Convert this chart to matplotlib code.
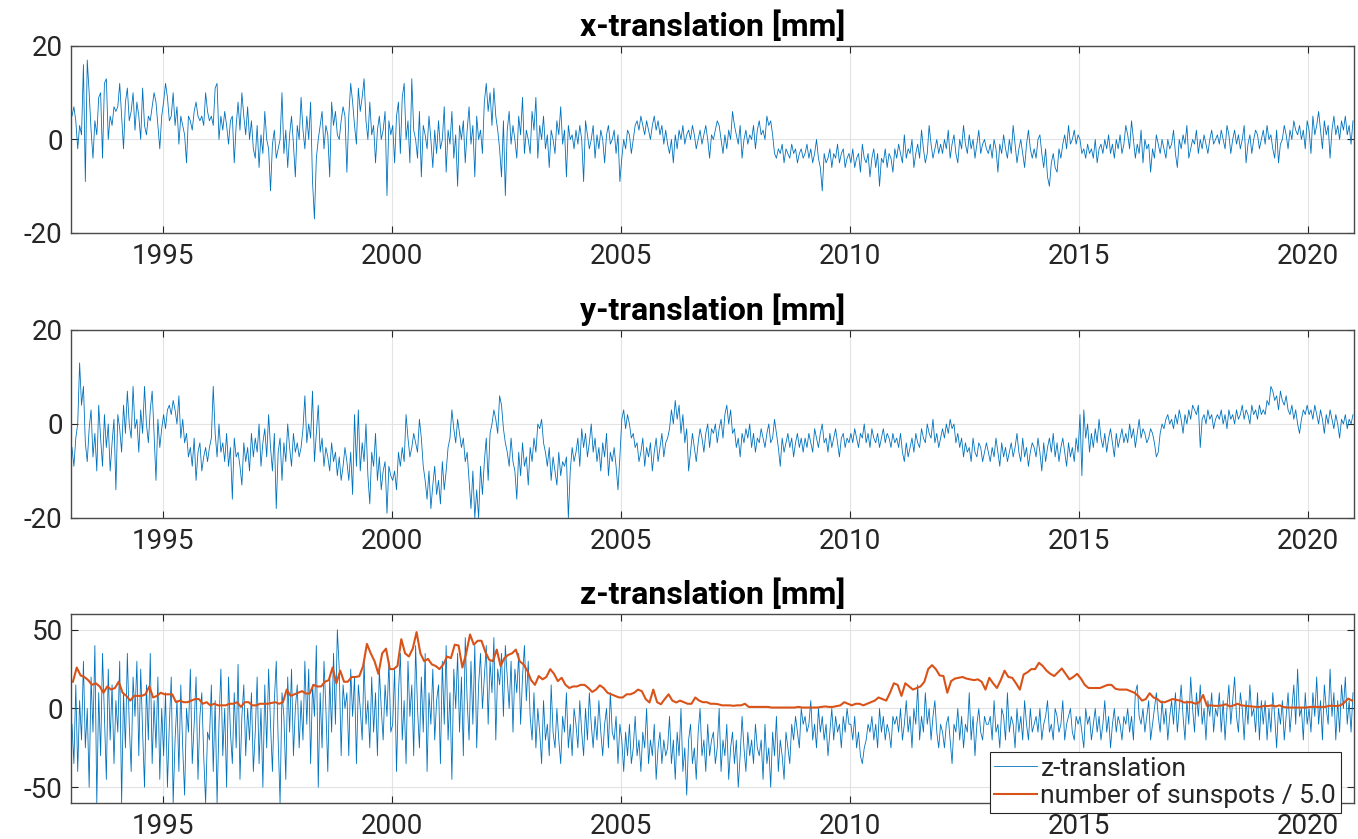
import numpy as np
import matplotlib.pyplot as plt

plt.rcParams['font.family'] = ['Roboto', 'DejaVu Sans']
plt.rcParams['axes.unicode_minus'] = False

START_YEAR = 1993
PER_YEAR = 24      # translation samples per year (semi-monthly)
SUN_PER_YEAR = 12  # monthly sunspot values

# x-translation [mm], one row per year 1993..2020
x_trans = [
    5, 7, 4, -2, 3, 1, 16, -9, 17, 10, 2, -4, 4, 1, 9, 10, -4, 12, 13, 0, 5, 3, 7, 6,
    7, 12, 5, -2, 8, 11, 4, 6, 10, 2, 8, 5, 0, 11, 3, 1, 5, 4, 7, 10, 8, 3, -2, 5,
    8, 12, 9, 4, 5, 10, 3, 7, -1, 5, 3, 1, -5, 5, 4, 2, 6, 8, 5, 4, 5, 3, 10, 6,
    4, 5, 3, 11, 12, 0, 5, 2, 6, 3, -1, 4, 5, -5, 3, 8, 2, 10, 5, 1, 7, 0, 4, -2,
    -4, 3, -6, 1, -3, 6, 0, -2, -11, -1, 2, -4, -2, 0, 10, -3, 2, -6, 1, 5, -1, -8, 3, 0,
    9, 2, -2, 5, 0, 8, -9, -17, -4, 0, 3, 6, -2, 3, 1, -8, 8, 3, 6, 1, 0, 4, 7, 5,
    -7, 5, 12, 8, 3, -1, 11, 6, 9, 13, 4, 0, 8, 1, 3, -5, 2, 5, 0, 2, 6, -12, 4, 1,
    3, -5, 5, 8, -3, 9, 12, 0, 4, -5, 13, 2, 0, -4, 6, -8, 3, 1, -2, 5, 0, -6, 2, -3,
    4, -2, 0, 7, -7, 2, -1, 6, -4, 1, -10, 3, 0, 4, -5, 2, 7, -1, 3, -8, 5, 0, 2, -3,
    8, 12, 6, 10, 3, 11, 5, 2, -2, -8, 4, -12, 2, 6, -1, 3, 0, -4, 5, 1, 9, -3, 2, 0,
    -3, 6, 2, 9, -4, 3, 0, 5, -2, 1, -6, 2, 0, -3, 4, 1, 7, -1, 2, -8, 3, 0, 1, -2,
    2, -1, 3, 0, -9, 4, 1, -2, 0, 3, -4, 1, -2, 2, 0, -5, 1, 3, -1, 0, 2, -3, 1, -9,
    -4, 0, -2, 2, 1, -3, 0, 3, 4, 2, 5, 3, 1, 4, 2, 0, 3, 5, 2, 4, 1, 3, -1, 2,
    -1, -3, 0, -5, 1, -2, 2, 0, 3, -1, 1, 2, 0, 3, 1, -2, 0, 2, -1, 1, 3, 0, -4, 1,
    0, 2, 4, 3, 0, -3, 1, -2, 2, 0, 6, 3, 1, -1, 3, -4, 0, 2, -1, 1, 0, 3, -2, 2,
    4, 1, 2, 0, 5, 3, 4, 1, -3, -4, -2, -3, -1, -5, -2, -3, -4, -1, -3, -2, -5, -3, -2, -4,
    -3, -1, -4, -2, -5, -3, 0, -4, -6, -11, -3, -5, -4, -2, -6, -3, -4, -1, -5, -3, -2, -6, -4, -3,
    -5, -2, -6, -4, -3, -7, -1, -4, -5, -3, -8, -4, -2, -6, -3, -10, -4, -5, -2, -6, -3, -4, -7, -2,
    -4, -1, -3, -5, 1, -4, -2, -3, 0, -6, -3, -1, -4, 2, -2, -5, -3, 3, -1, -4, -2, 0, -3, -1,
    -3, 0, -2, 2, -4, -1, 1, -3, -5, 0, -2, 3, -1, -3, 1, -2, 0, -4, -1, 2, -3, -1, 0, -2,
    -3, -1, -4, 0, -2, -7, -1, -3, 1, -2, -4, 0, -3, 3, -1, -5, -2, 0, -3, -6, -1, 2, -2, -4,
    -2, -4, 0, 1, -3, -6, -2, -8, -10, -5, -3, -6, -7, -2, -4, -1, 1, -2, 3, -1, 0, 2, -1, 1,
    0, -3, -2, -4, -1, -3, -2, -4, 0, -5, -2, -1, -3, 0, -2, 1, -3, -1, -4, 0, -2, 1, -3, -1,
    3, 1, -2, 4, 0, -4, -1, -3, 2, -5, 0, -2, -1, -7, -2, -4, 1, -1, -3, 0, -2, -4, 0, -2,
    -1, 2, -3, -6, 0, -2, 1, -1, 3, -4, -2, 0, -1, 2, -3, 0, -2, 1, -1, -3, 0, 2, -1, 0,
    1, -1, 2, 0, -2, 3, 1, -3, 0, 2, -1, 1, -2, 0, 3, -5, -1, 1, -3, 0, 2, 1, -2, 0,
    2, -1, 3, 0, 1, -2, -4, 2, -5, -1, 0, 3, 1, -2, 2, 0, 4, 2, 1, 3, 0, 2, -2, 4,
    2, -3, 5, 1, 3, 6, 2, -2, 4, 1, 3, -4, 2, 5, 1, 3, 0, 4, 2, 5, 1, 3, -1, 4,
]

# y-translation [mm]
y_trans = [
    -5, -9, -3, 0, 13, 4, 8, -4, -8, -1, 3, -7, -2, -10, 4, -3, -9, 2, -5, 0, -10, -4, 1, -14,
    2, -1, -6, 4, -2, 7, 0, -3, 8, -1, 1, -6, 3, -2, 8, 0, -4, 3, 7, -2, -12, 1, -5, -1,
    2, -1, 3, 4, 2, 5, 3, 0, 6, -3, 1, -4, -2, -7, -5, -9, -3, -12, -6, -4, -10, -7, -5, -8,
    -5, -3, 8, -2, -7, 0, -6, -4, -8, -2, -9, -5, -16, -3, -7, -6, -9, -13, -4, -8, -5, -10, -2, -7,
    -3, -6, 0, -9, -4, -1, -7, 2, -5, -10, -2, -18, -6, -3, -12, -4, -8, 0, -5, -9, -2, -6, -4, -7,
    -5, -1, 6, -4, 0, -3, 7, -8, -2, 4, -6, -3, -9, -5, -7, -10, -4, -8, -6, -11, -7, -12, -9, -5,
    -8, -12, -6, -15, 2, -9, 3, -10, -4, -8, 0, -11, -17, -6, -9, -2, -12, -7, -14, -10, -8, -19, -9, -11,
    -12, -10, -14, -6, -9, -5, -8, 2, -3, -7, -5, -2, -4, -6, 1, -3, -9, -12, -16, -10, -18, -13, -9, -15,
    -12, -17, -8, -14, -10, -5, -3, 3, -1, -4, 1, -2, -5, -3, -8, -6, -12, -18, -10, -20, -14, -20, -9, -15,
    -8, -3, -12, -2, 0, 3, 1, -2, 6, 4, -1, -4, -6, -9, -3, -8, -10, -16, -6, -11, -4, -9, -7, -13,
    -5, -8, -3, -6, 0, -1, 1, -4, -6, -9, -5, -12, -7, -10, -13, -6, -11, -8, -9, -7, -20, -10, -5, -8,
    -6, -3, -9, -1, -5, -2, -7, -4, 0, -6, -3, -8, -5, -10, -4, -7, -2, -11, -6, -8, -5, -9, -14, -7,
    1, 3, -1, 2, 0, -3, -2, -5, -4, -8, -6, -3, -9, -5, -7, -4, -10, -6, -3, -8, -5, -2, -7, -4,
    -3, -1, 3, 0, 5, 1, 4, -2, 2, -4, -1, -10, -6, -2, -5, -8, -4, -1, -3, -6, -2, 0, -5, -1,
    -2, 0, -4, -1, 1, -3, 2, 4, 0, 3, -2, -1, -5, -3, -7, -2, -4, -1, -3, 0, -5, -2, -6, -3,
    -4, -1, -3, -5, -2, 0, -4, -3, 1, -2, -5, -9, -3, -6, -4, -2, -5, -3, -7, -4, -2, -5, -3, -6,
    -3, -5, -2, -4, -6, -1, -3, -5, -2, 0, -4, -3, -6, -2, -5, -3, -1, -4, -7, -3, -2, -5, -3, -4,
    -2, -4, -1, -3, -5, -2, -3, 0, -4, -2, -5, -1, -3, -4, -2, -5, -3, -1, -4, -2, -3, -5, -2, -4,
    -3, -5, -2, -6, -8, -4, -7, -5, -3, -6, -2, -4, -5, -1, -3, -4, 0, -2, -3, 1, -4, -2, -5, -3,
    -1, -3, 0, -2, 1, -1, 0, -4, -2, -5, -3, -7, -4, -6, -5, -8, -3, -6, -7, -4, -5, -8, -6, -4,
    -6, -8, -5, -7, -3, -6, -9, -4, -7, -5, -8, -6, -4, -7, -5, -2, -6, -8, -3, -7, -5, -9, -6, -4,
    -5, -7, -3, -6, -10, -4, -8, -5, -3, -6, -2, -7, -4, -8, -5, -3, -6, -9, -4, -7, -5, -8, -3, -6,
    2, -11, 3, -3, 0, -6, -2, -5, -1, -4, 1, -3, -5, -2, -6, -3, -1, -4, -7, -2, -5, -3, -1, -4,
    -2, -4, 0, -3, -1, -5, -2, 1, -3, -1, -2, -4, -3, -1, -2, -4, -7, -6, -2, 0, -1, 1, 2, 0,
    1, -1, 2, 0, 3, 1, -2, 2, 0, 3, 1, 4, 3, 2, 4, -5, 1, 2, 0, 3, 1, 2, -1, 1,
    2, 1, 3, 0, 2, -1, 3, 1, 2, 0, 3, 1, 2, 4, 1, 3, 2, 0, 4, 2, 3, 1, 4, 2,
    3, 2, 5, 4, 8, 7, 5, 6, 3, 7, 5, 4, 6, 3, 2, 4, 1, 3, 0, -2, 1, 3, 2, 4,
    2, 3, 1, 4, 2, 0, 3, 1, -2, 2, 0, 3, 1, -1, 2, 0, -3, 1, 0, 2, -1, 1, 0, 2,
]

# z-translation [mm]
z_trans = [
    -10, -35, 15, -40, 5, -20, 30, -25, 0, -50, 20, -15, 40, -60, 10, -30, 35, -5, -45, 25, -20, 15, -35, 5,
    -15, 30, -60, 10, -25, 35, -10, -40, 20, -5, 30, -30, 25, -15, -50, 15, -20, 35, -35, 5, -25, 20, -45, 0,
    -30, 10, -50, -10, 20, -60, -20, 5, -40, 15, -25, -55, 0, -15, 25, -35, -10, 20, -45, -5, 10, -30, -60, -15,
    -20, 15, -40, 5, -60, -10, 25, -30, 0, -50, 20, -15, -35, 10, -25, 28, -45, -5, 15, -30, 0, -20, 10, -40,
    -15, 20, -35, 0, -50, 15, -25, 25, -10, -40, 5, 30, -20, -60, 10, -5, -45, 20, -15, 25, -30, 0, 15, -25,
    5, -20, 30, -10, 25, -35, 15, -5, 40, -50, 10, -25, 30, 0, -40, 20, -15, 35, -10, 50, 25, -30, 15, 0,
    10, -30, 25, -5, 20, -35, 15, 0, -20, 30, -10, 5, -25, 20, -15, 10, -30, 25, 0, -20, 15, -5, 30, -15,
    -10, 25, -40, 10, 35, -20, 5, -35, 30, -5, 15, -30, 40, 0, -25, 20, -15, 35, -40, 10, -10, 25, -20, 5,
    15, -35, 30, -10, 40, -20, 10, -45, 25, 0, 35, -15, 20, -30, 45, 5, -20, 30, -10, 40, -25, 15, 35, 0,
    20, 40, -10, 30, 10, 45, -20, 25, 15, 35, -5, 40, 20, 0, 30, -15, 25, 10, 35, -10, 20, 40, 5, 30,
    -5, -20, 10, -25, 0, -15, -35, 5, -20, -10, -30, 15, -15, -25, 0, -20, -35, -5, -15, 10, -25, -10, -30, 0,
    -10, -25, 5, -15, -30, 0, -20, 10, -10, -25, -5, -20, 5, -15, -30, -10, 0, -25, 10, -15, -20, -5, -35, -10,
    -20, -40, -15, -30, -10, -35, -25, -5, -30, -20, -40, -15, -25, 0, -35, -20, -30, -10, -45, -25, -15, -35, -20, -30,
    -25, -5, -35, -20, -45, -15, -30, 0, -40, -25, -55, -20, -10, -35, -25, -45, -15, 0, -30, -20, -40, -10, -30, -20,
    -15, -35, -25, 0, -40, -20, -30, -10, -45, -25, -15, -35, -20, -50, -30, -5, -25, -40, -15, -30, -20, -35, -10, -25,
    -30, -20, -45, -10, -35, -25, -50, -15, -30, -5, -40, -20, -30, -45, -15, -25, -35, -10, -20, -5, -15, -25, 0, -10,
    -5, -15, -10, 5, -20, -10, -25, 0, -15, -5, -20, -10, -30, -15, 0, -20, -5, -15, -10, -25, -5, -15, 0, -10,
    -10, -20, -5, -25, -15, -30, -35, -25, -20, -10, -15, -5, -20, -10, -25, 0, -15, -5, -20, -10, -15, -25, -5, -10,
    -5, -15, 0, -20, -10, 5, -15, -5, -25, 0, -10, 15, -20, -5, -15, 10, -10, 0, -20, -5, 5, -15, -25, -10,
    -15, -25, -10, -5, -20, -35, -10, -15, 0, -20, -5, -25, -10, -15, 10, -20, -5, -30, -10, 0, -15, -20, -5, -10,
    -10, -5, -20, 5, -15, -10, -25, 0, -5, -20, 10, -15, -5, -10, -25, 0, -15, -5, -20, 5, -10, -20, 0, -15,
    -10, -5, -15, 0, -20, -10, -5, 5, -15, -10, -20, 0, -5, -15, -10, 5, -20, -10, -5, 0, -15, -20, -5, -10,
    -5, -15, -25, 0, -10, -5, -20, -10, 0, -15, -5, -20, -10, 5, -15, -5, -25, -10, 0, -15, -5, -10, -20, -5,
    -10, 0, -15, -5, -20, 10, 15, -5, -10, 0, -15, -5, 5, -20, -10, 0, 10, -5, -15, 5, -10, 0, -20, -5,
    5, -10, 10, -15, 0, 15, -5, -20, 5, -10, 20, 0, -15, 10, -5, 15, -10, 0, -20, 5, -5, 10, -15, 0,
    -5, 10, -15, 5, -20, 0, 15, -10, 5, 20, -5, -15, 10, 0, -20, 5, -10, 15, -5, 0, -15, 10, -20, 5,
    -10, 5, -20, 0, -15, 10, -5, -25, 0, -10, 5, -20, -5, 10, -15, 0, 15, -10, 25, -5, 0, -20, 10, -10,
    0, -15, 10, -5, 20, -10, 5, -20, 15, 0, -10, 25, -5, 10, -20, 5, -15, 15, 0, 20, -10, 5, -15, 10,
]

# monthly number of sunspots, already divided by 5.0
sunspots_scaled = [
    17, 26, 21, 20, 18, 15, 16, 14, 10, 14, 12, 13,
    17, 10, 8, 5, 8, 8, 8, 9, 14, 7, 8, 10,
    9, 9, 9, 4, 5, 4, 4, 5, 6, 6, 3, 4,
    2, 3, 2, 2, 2, 3, 3, 4, 1, 4, 4, 2,
    2, 3, 3, 3, 3.5, 4, 3, 4, 12, 8, 9, 10,
    11, 9.5, 9.5, 15, 14, 14, 17, 18, 26, 16, 24, 17,
    17, 20, 20, 20.5, 27, 41, 35, 30, 22, 35, 38, 25,
    25, 27, 44, 35, 33, 38, 48.5, 35, 30, 31.5, 28, 27,
    25, 28, 33, 32, 40.5, 40, 26, 35, 47, 40.5, 43, 43,
    36, 31, 30, 37.4, 27, 32, 34, 35, 37.4, 30, 28, 24,
    18, 15, 20.6, 18.5, 20, 25, 22, 17.4, 19.5, 15, 13, 14,
    14, 15, 15, 13, 10.5, 12, 14.7, 13, 10, 9, 8, 7,
    7, 9, 9, 10, 12, 11, 6, 3.8, 12, 4, 2.7, 6,
    9, 5, 3.8, 5, 4, 3, 3, 7, 5, 4, 4, 3,
    3, 2.7, 2, 2, 2, 1.7, 2, 2, 3, 1, 1, 1,
    1, 1, 1, 0.6, 0.6, 0.6, 0.6, 0.6, 0.6, 0.6, 1, 0.6,
    0.6, 0.6, 0.6, 0.6, 1, 1.3, 1, 1, 1.5, 2, 4, 3,
    2, 3, 3, 2, 3, 4, 5, 7, 6, 5, 10, 16,
    15, 8, 16, 14, 12, 13, 14, 17, 25, 27.5, 25, 21,
    20.6, 10, 17.4, 19, 19.5, 20, 19, 18.5, 18, 18.5, 17, 12,
    19.5, 16, 13, 18, 24, 20, 19.5, 16, 12, 21.6, 23, 25,
    25, 29, 27, 24, 22, 20.6, 23, 25.4, 22, 18.5, 20, 22,
    19, 15, 13, 13, 13, 13, 14, 15, 15, 12.6, 12, 12,
    12, 11, 10, 8, 5, 6, 9.7, 7, 6, 4, 4, 5,
    6, 5.5, 5, 3.8, 4, 4, 3, 4, 8.6, 1.7, 2, 1.7,
    1.7, 2, 2.7, 1.3, 2, 3, 2, 1.7, 1.5, 1.2, 1, 1,
    1.7, 1.5, 2, 1.3, 2, 1, 0.6, 0.6, 0.6, 0.6, 0.6, 0.6,
    1, 1, 1, 1, 1, 1.7, 1.7, 1.5, 2, 3.8, 6.3, 5,
]

titles = ["x-translation [mm]", "y-translation [mm]", "z-translation [mm]"]
y_limits = [(-20, 20), (-20, 20), (-60, 60)]
y_ticks = [[-20, 0, 20], [-20, 0, 20], [-50, 0, 50]]
x_ticks = [1995, 2000, 2005, 2010, 2015, 2020]

BLUE = "#0072BD"
ORANGE = "#D95319"
AXCOL = "#262626"


def main():
    t_trans = START_YEAR + (np.arange(len(x_trans)) + 0.5) / PER_YEAR
    t_sun = START_YEAR + (np.arange(len(sunspots_scaled)) + 0.5) / SUN_PER_YEAR

    fig = plt.figure(figsize=(13.58, 8.39), dpi=100)
    rects = [
        [0.0523, 0.7223, 0.9447, 0.2229],
        [0.0523, 0.3826, 0.9447, 0.2241],
        [0.0523, 0.0429, 0.9447, 0.2253],
    ]
    series = [x_trans, y_trans, z_trans]
    axes = []
    for i, rect in enumerate(rects):
        ax = fig.add_axes(rect)
        ax.plot(t_trans, series[i], color=BLUE, lw=0.6, label="z-translation")
        ax.set_xlim(1993, 2021)
        ax.set_ylim(*y_limits[i])
        ax.set_xticks(x_ticks)
        ax.set_yticks(y_ticks[i])
        ax.grid(True, color="#e3e3e3", lw=0.8)
        ax.set_axisbelow(True)
        ax.tick_params(direction="in", top=True, right=True, length=5,
                       width=0.8, color=AXCOL, labelcolor=AXCOL, labelsize=20)
        ax.tick_params(axis="x", pad=7)
        ax.tick_params(axis="y", pad=6)
        for sp in ax.spines.values():
            sp.set_color("#4a4a4a")
            sp.set_linewidth(1.0)
        ax.set_title(titles[i], fontsize=23, fontweight="bold", pad=7)
        axes.append(ax)

    ax = axes[2]
    ax.plot(t_sun, sunspots_scaled, color=ORANGE, lw=1.5,
            label="number of sunspots / 5.0")
    leg = ax.legend(loc="lower right", bbox_to_anchor=(1341 / 1358, 1 - 813 / 839),
                    bbox_transform=fig.transFigure, fontsize=19, frameon=True,
                    fancybox=False, framealpha=1, edgecolor=AXCOL,
                    borderpad=0.18, labelspacing=0.1, handlelength=1.63,
                    handletextpad=0.12, borderaxespad=0)
    leg.get_frame().set_linewidth(0.8)
    for txt in leg.get_texts():
        txt.set_color(AXCOL)

    fig.savefig("out.png", dpi=100)


if __name__ == "__main__":
    main()
